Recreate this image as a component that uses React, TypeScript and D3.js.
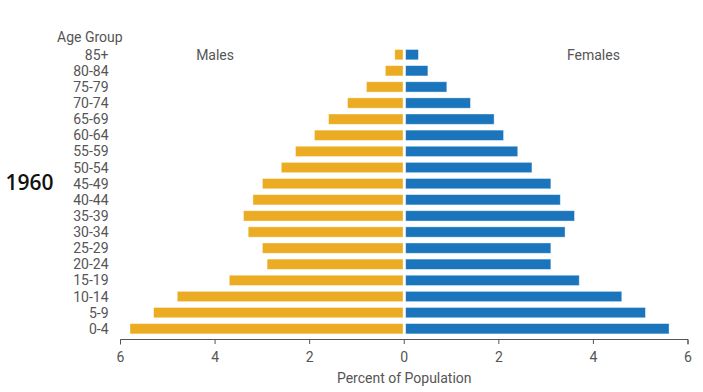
import React from "react";
import * as d3 from "d3";

const ageGroups = ["85+","80-84","75-79","70-74","65-69","60-64","55-59","50-54","45-49","40-44","35-39","30-34","25-29","20-24","15-19","10-14","5-9","0-4"];
const males = [0.2,0.4,0.8,1.2,1.6,1.9,2.3,2.6,3.0,3.2,3.4,3.3,3.0,2.9,3.7,4.8,5.3,5.8];
const females = [0.3,0.5,0.9,1.4,1.9,2.1,2.4,2.7,3.1,3.3,3.6,3.4,3.1,3.1,3.7,4.6,5.1,5.6];
const xTicks = [-6,-4,-2,0,2,4,6];
const yearLabel = "1960";

const W = 703, H = 392;
const MALE = "#EBAC23";
const FEMALE = "#1A75BC";
const TXT = "#555";
const FONT = "Roboto, sans-serif";

export default function App() {
  const x = d3.scaleLinear().domain([-6, 6]).range([120.5, 688]);
  const y = d3.scaleBand<string>().domain(ageGroups).range([46.6, 336.8]).paddingInner(0.36).paddingOuter(0.18);
  const axisY = 339.5;
  const x0 = x(0);
  const bw = y.bandwidth();
  const axisPath = `M${x(-6)},${axisY + 5}V${axisY}H${x(6)}V${axisY + 5}`;
  return (
    <svg width={W} height={H} style={{ position: "absolute", left: 0, top: 0, background: "#fff" }}>
      <text x={57} y={41.5} fontFamily={FONT} fontSize={14} fill={TXT}>Age Group</text>
      {ageGroups.map((g) => (
        <text key={g} x={108.5} y={(y(g) as number) + bw / 2} dy="0.36em" textAnchor="end" fontFamily={FONT} fontSize={14} fill={TXT}>{g}</text>
      ))}
      <text x={x(-4)} y={60} textAnchor="middle" fontFamily={FONT} fontSize={14} fill={TXT}>Males</text>
      <text x={x(4)} y={60} textAnchor="middle" fontFamily={FONT} fontSize={14} fill={TXT}>Females</text>
      <text x={5.5} y={189.5} fontFamily="'Open Sans', sans-serif" fontWeight={600} fontSize={21} fill="#111">{yearLabel}</text>
      {ageGroups.map((g, i) => (
        <rect key={"m" + g} x={x(-males[i])} y={y(g)} width={x0 - 1.2 - x(-males[i])} height={bw} fill={MALE} stroke="#fff" strokeOpacity={0.5} strokeWidth={0.8} />
      ))}
      {ageGroups.map((g, i) => (
        <rect key={"f" + g} x={x0 + 1.4} y={y(g)} width={x(females[i]) - x0 - 1.4} height={bw} fill={FEMALE} stroke="#fff" strokeOpacity={0.5} strokeWidth={0.8} />
      ))}
      <path d={axisPath} fill="none" stroke={TXT} strokeWidth={1} />
      {xTicks.map((t) => (
        <g key={t} transform={`translate(${x(t)},${axisY})`}>
          <line y2={4.5} stroke={TXT} />
          <text y={22.5} textAnchor="middle" fontFamily={FONT} fontSize={14} fill={TXT}>{Math.abs(t)}</text>
        </g>
      ))}
      <text x={x0} y={382.5} textAnchor="middle" fontFamily={FONT} fontSize={14} fill={TXT}>Percent of Population</text>
    </svg>
  );
}
